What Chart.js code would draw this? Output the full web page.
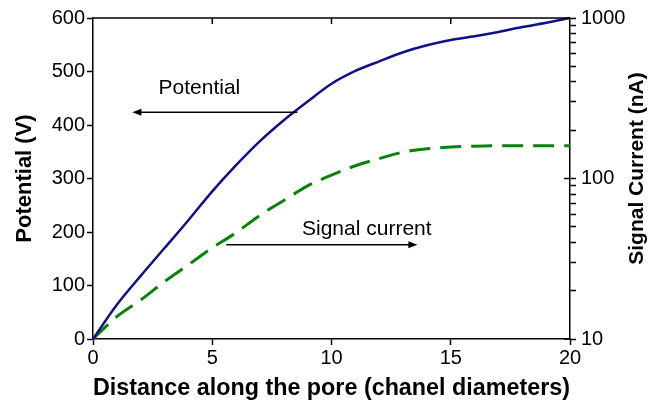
<!DOCTYPE html>
<html lang="en">
<head>
  <meta charset="UTF-8">
  <title>Potential and signal current along the pore</title>
  <script src="https://cdn.jsdelivr.net/npm/chart.js"></script>
  <style>
    html, body { margin: 0; padding: 0; background: #fff; }
    canvas { display: block; }
  </style>
</head>
<body>
<canvas id="poreChart" width="659" height="404"></canvas>
<script>
// distance along the pore, in channel diameters
const distance = [0, 1, 2, 3, 4, 5, 6, 7, 8, 9, 10, 11, 12, 13, 14, 15, 16, 17, 18, 19, 20];
// potential (V), left axis
const potential = [0, 64, 118, 170, 222, 276, 325, 370, 409, 444, 477, 501, 519, 536, 549, 559, 566, 574, 583, 591, 600];
// signal current (nA), right log axis
const signalCurrent = [10, 13.8, 17.5, 22.8, 29, 37, 46, 59, 73, 90, 105, 120, 133, 146, 153, 157, 159, 160, 160, 160, 160];

const xTicks = [0, 5, 10, 15, 20];
const rightMajor = [10, 100, 1000];
const rightTicks = [10, 20, 30, 40, 50, 60, 70, 80, 90, 100, 200, 300, 400, 500, 600, 700, 800, 900, 1000];
const rightTitle = 'Signal Current (nA)';

const FONT = "'Liberation Sans', Arial, Helvetica, sans-serif";

// text labels with arrows, placed in data units (left axis)
const notes = [
  { text: 'Potential', x: 4.46, y: 469, from: 8.57, to: 1.65, ay: 424 },
  { text: 'Signal current', x: 11.48, y: 206, from: 5.59, to: 13.6, ay: 176 }
];

const frame = {
  id: 'frame',
  afterDatasetsDraw(chart) {
    const { ctx, chartArea: a, scales } = chart;
    const xs = scales.x, ys = scales.y, yr = scales.y2;
    ctx.save();
    ctx.strokeStyle = '#000';
    ctx.lineWidth = 1.5;
    // top border with inward ticks
    ctx.beginPath();
    ctx.moveTo(a.left, a.top);
    ctx.lineTo(a.right, a.top);
    xTicks.slice(1, -1).forEach(v => {
      const px = xs.getPixelForValue(v);
      ctx.moveTo(px, a.top);
      ctx.lineTo(px, a.top + 6);
    });
    // inward part of major ticks on the right axis
    rightMajor.forEach(v => {
      const py = yr.getPixelForValue(v);
      ctx.moveTo(a.right, py);
      ctx.lineTo(a.right - 6, py);
    });
    ctx.stroke();

    // annotations
    ctx.fillStyle = '#000';
    ctx.font = '21px ' + FONT;
    ctx.textAlign = 'center';
    ctx.textBaseline = 'middle';
    notes.forEach(n => {
      ctx.fillText(n.text, xs.getPixelForValue(n.x), ys.getPixelForValue(n.y));
      const x1 = xs.getPixelForValue(n.from), x2 = xs.getPixelForValue(n.to);
      const y = ys.getPixelForValue(n.ay);
      const dir = x2 > x1 ? 1 : -1;
      ctx.lineWidth = 1.5;
      ctx.beginPath();
      ctx.moveTo(x1, y);
      ctx.lineTo(x2 - dir * 6, y);
      ctx.stroke();
      ctx.beginPath();
      ctx.moveTo(x2, y);
      ctx.lineTo(x2 - dir * 9, y - 3.5);
      ctx.lineTo(x2 - dir * 9, y + 3.5);
      ctx.closePath();
      ctx.fill();
    });

    // right axis title, reading bottom to top like the left one
    ctx.font = 'bold 21px ' + FONT;
    ctx.translate(yr.right - 22, (a.top + a.bottom) / 2 - 10);
    ctx.rotate(-Math.PI / 2);
    ctx.fillText(rightTitle, 0, 0);
    ctx.restore();
  }
};

new Chart(document.getElementById('poreChart'), {
  type: 'line',
  data: {
    datasets: [
      {
        label: 'Potential',
        data: distance.map((d, i) => ({ x: d, y: potential[i] })),
        yAxisID: 'y',
        borderColor: '#10108a',
        borderWidth: 2.5,
        pointRadius: 0,
        tension: 0.3,
        clip: 4
      },
      {
        label: 'Signal current',
        data: distance.map((d, i) => ({ x: d, y: signalCurrent[i] })),
        yAxisID: 'y2',
        borderColor: '#0a820a',
        borderWidth: 3,
        borderDash: [21, 10],
        pointRadius: 0,
        cubicInterpolationMode: 'monotone',
        clip: 4
      }
    ]
  },
  options: {
    responsive: false,
    animation: false,
    devicePixelRatio: 1,
    layout: { padding: { top: 18, left: 0, right: 0, bottom: 0 } },
    plugins: { legend: { display: false }, tooltip: { enabled: false } },
    scales: {
      x: {
        type: 'linear',
        min: 0, max: 20,
        afterBuildTicks: s => { s.ticks = xTicks.map(v => ({ value: v })); },
        afterFit: s => { s.height = 65; },
        border: { color: '#000', width: 1.5 },
        grid: { drawOnChartArea: false, drawTicks: true, tickLength: 6, color: '#000', tickWidth: 1.5 },
        ticks: { color: '#000', font: { family: FONT, size: 20 }, padding: 1, maxRotation: 0 },
        title: {
          display: true, text: 'Distance along the pore (chanel diameters)',
          color: '#000', font: { family: FONT, size: 23.5, weight: 'bold' },
          padding: { top: 0, bottom: 1 }
        }
      },
      y: {
        type: 'linear',
        position: 'left',
        min: 0, max: 600,
        ticks: { stepSize: 100, color: '#000', font: { family: FONT, size: 20 }, padding: 2 },
        afterFit: s => { s.width = 93; },
        border: { color: '#000', width: 1.5 },
        grid: { drawOnChartArea: false, drawTicks: true, tickLength: 6, color: '#000', tickWidth: 1.5 },
        title: {
          display: true, text: 'Potential (V)',
          color: '#000', font: { family: FONT, size: 22, weight: 'bold' },
          padding: { top: 12, bottom: 0 }
        }
      },
      y2: {
        type: 'logarithmic',
        position: 'right',
        min: 10, max: 1000,
        afterBuildTicks: s => { s.ticks = rightTicks.map(v => ({ value: v, major: rightMajor.includes(v) })); },
        afterFit: s => { s.width = 89; },
        border: { color: '#000', width: 1.5 },
        grid: { drawOnChartArea: false, drawTicks: true, tickLength: 6, color: '#000', tickWidth: 1.5 },
        ticks: {
          color: '#000', font: { family: FONT, size: 20 }, padding: 5, autoSkip: false,
          callback: v => rightMajor.includes(v) ? String(v) : ''
        }
      }
    }
  },
  plugins: [frame]
});
</script>
</body>
</html>
